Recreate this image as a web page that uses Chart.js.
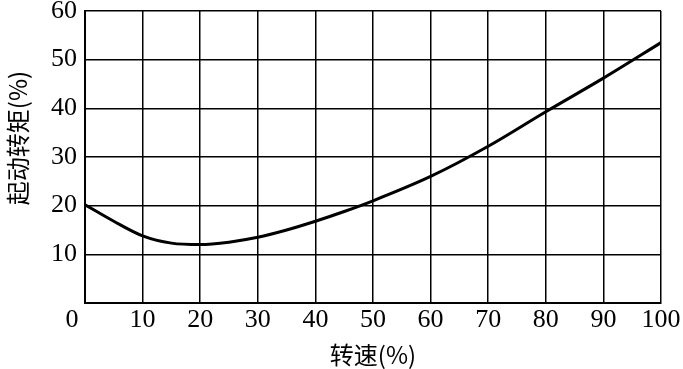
<!DOCTYPE html>
<html>
<head>
<meta charset="utf-8">
<script src="https://cdn.jsdelivr.net/npm/chart.js@4/dist/chart.umd.min.js"></script>
<style>
  html, body { margin: 0; padding: 0; background: #fff; }
  #wrap { width: 683px; height: 369px; }
</style>
</head>
<body>
<div id="wrap"><canvas id="myChart" width="683" height="369"></canvas></div>
<script>
// speed (%) and starting torque (%)
var speed = [0, 5, 10, 15, 20, 25, 30, 35, 40, 45, 50, 60, 70, 80, 90, 100];
var torque = [20.2, 16.8, 13.8, 12.3, 12.0, 12.5, 13.5, 15.0, 16.8, 18.8, 21.0, 26.0, 32.2, 39.3, 46.2, 53.5];
var xTitle = '转速(%)';
var yTitle = '起动转矩(%)';

var serif = "'Liberation Serif', 'DejaVu Serif', serif";
var cjk = "'Noto Sans CJK SC', sans-serif";

var points = [];
for (var i = 0; i < speed.length; i++) {
    points.push({x: speed[i], y: torque[i]});
}

// y title drawn a bit above the centre like the original
var yTitlePlugin = {
    id: 'yTitle',
    afterDraw: function(chart) {
        var ctx = chart.ctx;
        ctx.save();
        ctx.translate(18, 138);
        ctx.rotate(-Math.PI / 2);
        ctx.font = '24px ' + cjk;
        ctx.fillStyle = '#000';
        ctx.textAlign = 'center';
        ctx.textBaseline = 'middle';
        ctx.fillText(yTitle, 0, 0);
        ctx.restore();
    }
};

var ctx = document.getElementById('myChart');
var myChart = new Chart(ctx, {
    type: 'line',
    data: {
        datasets: [{
            data: points,
            borderColor: '#000',
            borderWidth: 3,
            pointRadius: 0,
            cubicInterpolationMode: 'monotone',
            fill: false
        }]
    },
    options: {
        responsive: false,
        animation: false,
        layout: { padding: { top: 11, right: 22, left: 0, bottom: 0 } },
        plugins: { legend: { display: false }, tooltip: { enabled: false } },
        scales: {
            x: {
                type: 'linear',
                min: 0,
                max: 100,
                afterFit: function(s) { s.height = 66; s.paddingLeft = 0; s.paddingRight = 0; },
                ticks: {
                    stepSize: 10,
                    color: '#000',
                    font: { family: serif, size: 26 },
                    padding: 2,
                    maxRotation: 0,
                    callback: function(v) { return v === 0 ? '0\u2007\u2007' : String(v); }
                },
                grid: { color: '#000', lineWidth: 1.5, drawTicks: false },
                border: { color: '#000', width: 2 },
                title: {
                    display: true,
                    text: xTitle,
                    color: '#000',
                    font: { family: cjk, size: 24 },
                    padding: { top: 0, bottom: 0 }
                }
            },
            y: {
                min: 0,
                max: 60,
                afterFit: function(s) { s.width = 85; s.paddingTop = 0; s.paddingBottom = 0; },
                ticks: {
                    stepSize: 10,
                    color: '#000',
                    font: { family: serif, size: 26 },
                    padding: 8,
                    callback: function(v) { return v === 0 ? '' : String(v); }
                },
                grid: { color: '#000', lineWidth: 1.5, drawTicks: false },
                border: { color: '#000', width: 2 }
            }
        }
    },
    plugins: [yTitlePlugin]
});
</script>
</body>
</html>
